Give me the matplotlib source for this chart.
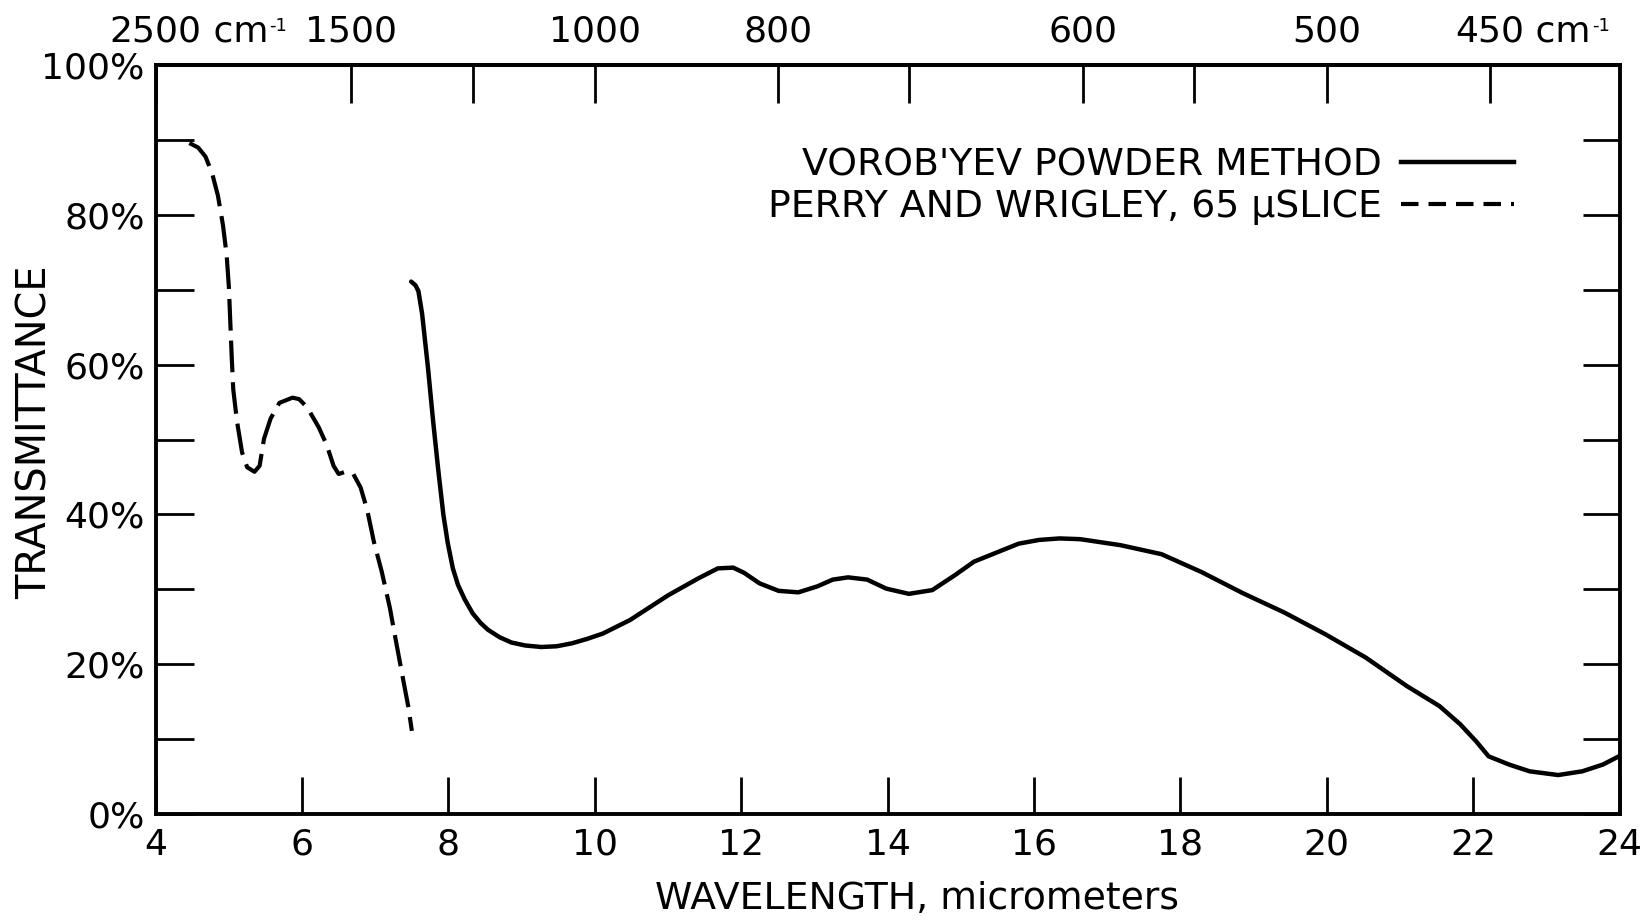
import numpy as np
import matplotlib
matplotlib.use('Agg')
import matplotlib.pyplot as plt
from matplotlib.lines import Line2D

# Vorob'yev powder method (solid curve), wavelength in micrometers, transmittance in %
vorobyev_wl = [7.49, 7.55, 7.59, 7.64, 7.72, 7.79, 7.86, 7.93, 7.99, 8.06, 8.13, 8.22, 8.33,
               8.44, 8.54, 8.70, 8.86, 9.05, 9.27, 9.48, 9.69, 9.90, 10.11, 10.48, 11.0,
               11.42, 11.68, 11.89, 12.04, 12.25, 12.51, 12.78, 13.04, 13.25, 13.46,
               13.72, 13.98, 14.29, 14.61, 14.92, 15.18, 15.51, 15.79, 16.07, 16.35,
               16.63, 17.18, 17.74, 18.29, 18.85, 19.42, 19.98, 20.53, 21.09, 21.54,
               21.82, 22.04, 22.21, 22.49, 22.77, 23.16, 23.49, 23.77, 23.99]
vorobyev_t = [71.1, 70.6, 69.8, 66.8, 59.6, 52.5, 46.0, 40.0, 36.2, 32.8, 30.6, 28.7, 26.8,
              25.5, 24.6, 23.6, 22.9, 22.5, 22.3, 22.4, 22.8, 23.4, 24.1, 25.9, 29.2,
              31.5, 32.8, 32.9, 32.2, 30.8, 29.8, 29.6, 30.4, 31.3, 31.6,
              31.3, 30.1, 29.4, 29.9, 31.9, 33.7, 35.0, 36.1, 36.6, 36.8,
              36.7, 35.9, 34.7, 32.3, 29.5, 26.9, 24.0, 20.9, 17.1, 14.4,
              12.0, 9.7, 7.7, 6.6, 5.7, 5.2, 5.7, 6.6, 7.7]

# Perry and Wrigley, 65 micron slice (dashed curve)
perry_wl = [4.46, 4.58, 4.68, 4.77, 4.85, 4.92, 4.97, 5.00, 5.02, 5.04, 5.06, 5.11, 5.18,
            5.25, 5.35, 5.42, 5.48, 5.57, 5.69, 5.87, 5.96, 6.07, 6.23, 6.34, 6.43, 6.50,
            6.59, 6.70, 6.80, 6.89, 6.98, 7.09, 7.20, 7.29, 7.38, 7.45, 7.50]
perry_t = [89.6, 89.0, 87.8, 85.6, 82.6, 78.6, 74.6, 70.4, 65.6, 60.8, 56.7, 52.5, 48.3,
           46.3, 45.7, 46.5, 50.1, 52.8, 54.9, 55.6, 55.4, 54.3, 51.6, 49.2, 46.5, 45.4,
           45.7, 45.4, 43.6, 40.6, 36.4, 32.3, 27.5, 22.7, 18.0, 14.4, 11.1]

x_ticks = [4, 6, 8, 10, 12, 14, 16, 18, 20, 22, 24]
y_major = [0, 20, 40, 60, 80, 100]
y_minor = [10, 30, 50, 70, 90]
wn_ticks = [2500, 1500, 1200, 1000, 800, 700, 600, 550, 500, 450]
wn_labels = ['2500', '1500', '', '1000', '800', '', '600', '', '500', '450']
wn_unit_on = ['2500', '450']

legend_labels = ["VOROB'YEV POWDER METHOD", "PERRY AND WRIGLEY, 65 \u03bcSLICE"]

FS = 27.2
TICK_FS = 26
TICK_LEN = 27

fig = plt.figure(figsize=(16.49, 9.23), dpi=100)
ax = fig.add_axes([0.0944, 0.1181, 0.8878, 0.8113])

ax.plot(vorobyev_wl, vorobyev_t, color='black', lw=3.2,
        solid_capstyle='round', solid_joinstyle='round')
ax.plot(perry_wl, perry_t, color='black', lw=3.0,
        linestyle=(0, (7.6, 2.4)), dash_capstyle='butt', dash_joinstyle='round')

ax.set_xlim(4, 24)
ax.set_ylim(0, 100)
ax.set_xticks(x_ticks, labels=[str(v) for v in x_ticks])
ax.set_yticks(y_major, labels=[f'{v}%' for v in y_major])
ax.set_yticks(y_minor, minor=True)
ax.tick_params(axis='both', which='both', direction='in', length=TICK_LEN,
               width=2, labelsize=TICK_FS, color='black')
ax.tick_params(axis='y', which='both', right=True, pad=8)
ax.tick_params(axis='x', which='both', top=False, pad=10)
for sp in ax.spines.values():
    sp.set_linewidth(2.8)

ax.set_xlabel('WAVELENGTH, micrometers', fontsize=FS)
ax.xaxis.set_label_coords(0.52, -0.09)
ax.set_ylabel('TRANSMITTANCE', fontsize=FS + 1.5)
ax.yaxis.set_label_coords(-0.068, 0.51)

# wavenumber scale on top
def wl_to_wn(x):
    x = np.asarray(x, dtype=float)
    with np.errstate(divide='ignore'):
        return 1e4 / x

secax = ax.secondary_xaxis('top', functions=(wl_to_wn, wl_to_wn))
secax.set_xticks(wn_ticks, labels=wn_labels)
secax.tick_params(direction='in', length=TICK_LEN, width=2, pad=12, labelsize=TICK_FS)
secax.spines['top'].set_linewidth(2.8)

handles = [Line2D([], [], color='black', lw=3.2),
           Line2D([], [], color='black', lw=3.0, linestyle=(0, (4.2, 2.4)))]
ax.legend(handles, legend_labels, loc='upper right', bbox_to_anchor=(0.928, 0.89),
          frameon=False, markerfirst=False, fontsize=FS, handlelength=3.0,
          handletextpad=0.5, labelspacing=0.14, borderpad=0, borderaxespad=0)

fig.canvas.draw()
for lab in secax.get_xticklabels():
    if lab.get_text() in wn_unit_on:
        cm = ax.annotate(' cm', xy=(1, 0), xycoords=lab, ha='left', va='bottom',
                         fontsize=TICK_FS)
        ax.annotate('-1', xy=(1.02, 0.93), xycoords=cm, ha='left', va='top',
                    fontsize=TICK_FS * 0.5)

fig.savefig('out.png', dpi=100, facecolor='white')
